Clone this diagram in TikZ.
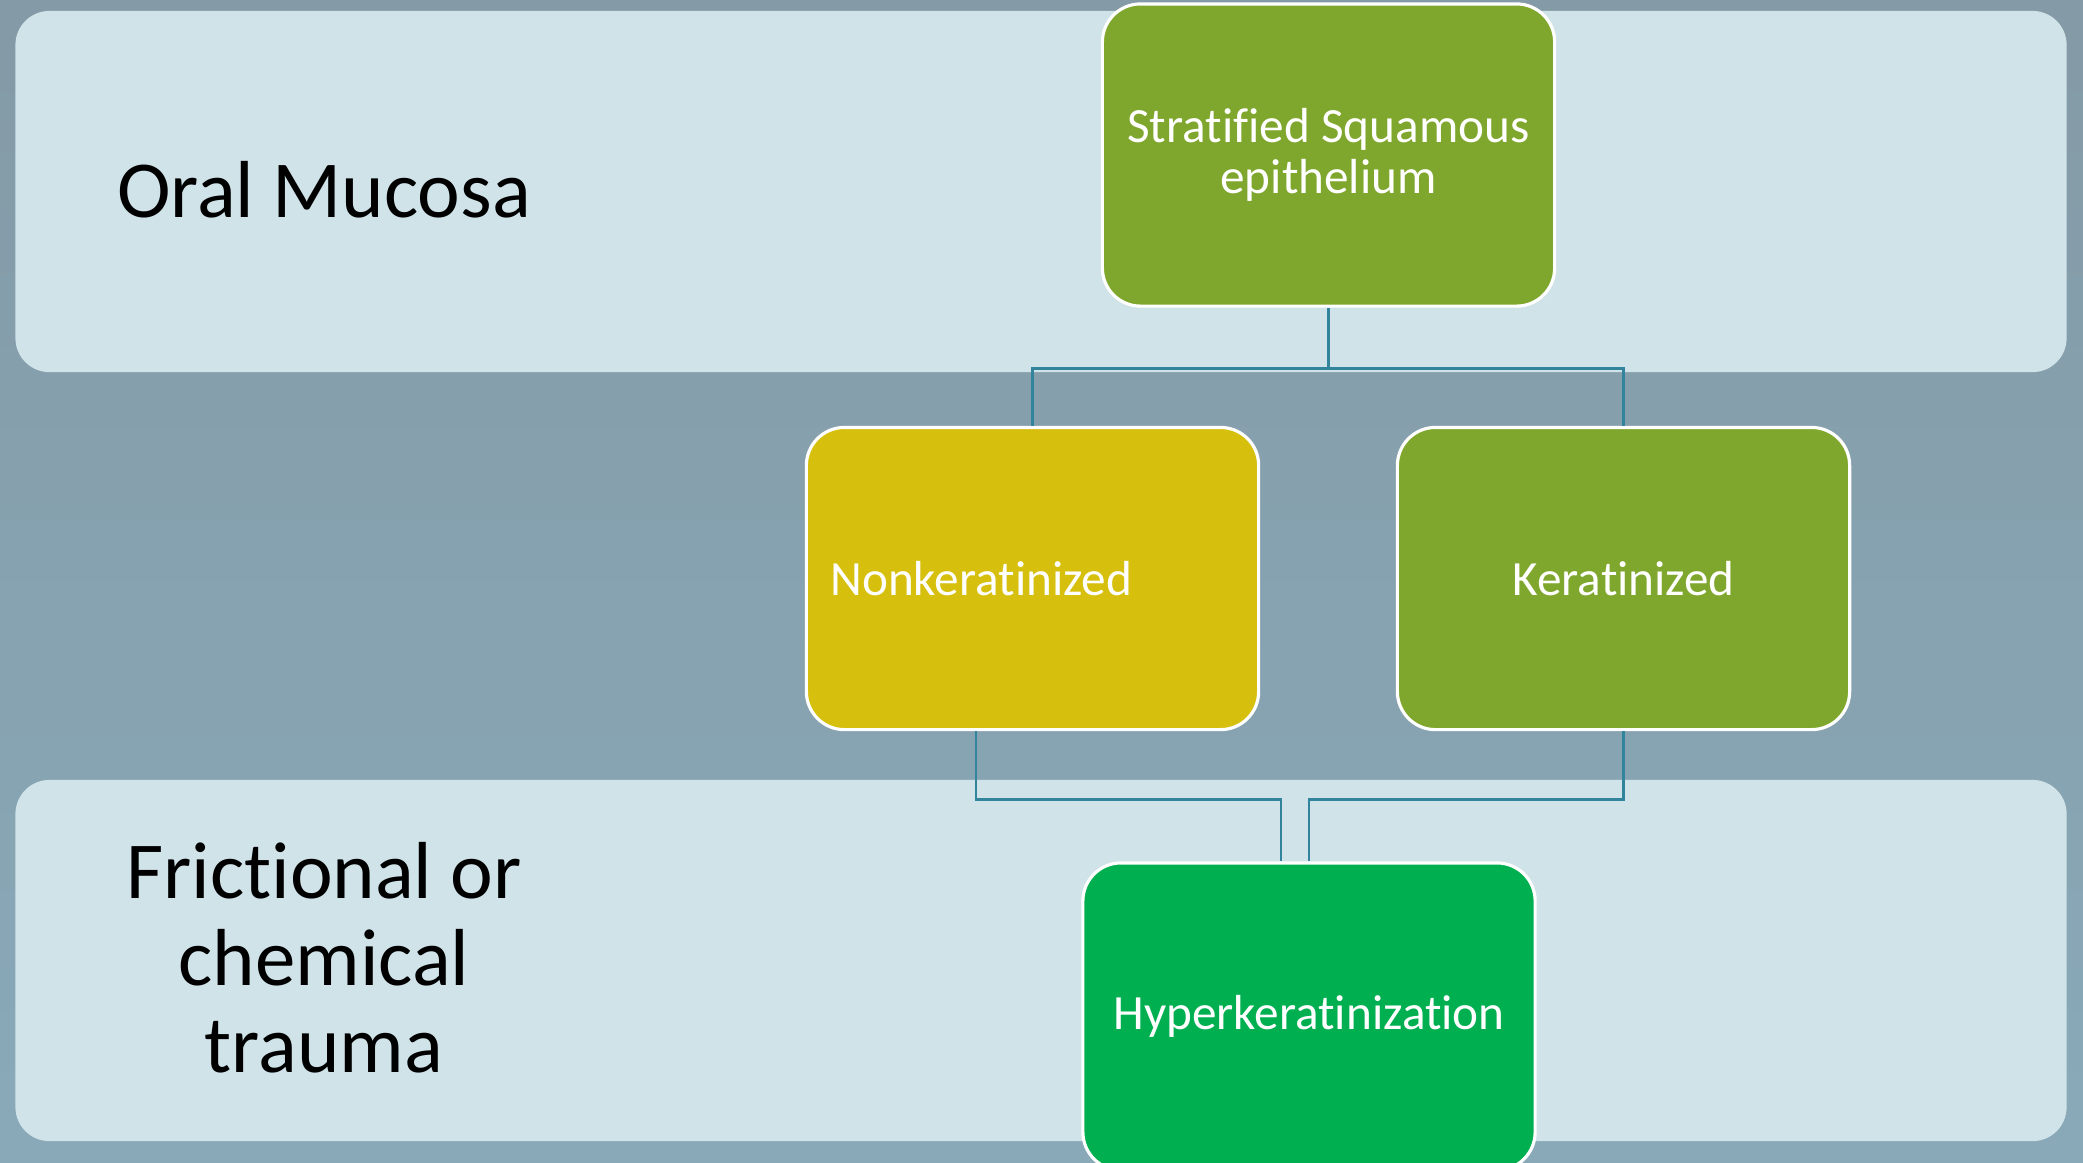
\documentclass[tikz,border=0pt]{standalone}
\usepackage{fontspec}
\setmainfont{Carlito}[Ligatures=NoCommon]
\definecolor{bgtop}{HTML}{849AA6}
\definecolor{bgbot}{HTML}{89A9B9}
\definecolor{bandfill}{HTML}{D0E3E9}
\definecolor{olive}{HTML}{7FA72D}
\definecolor{mustard}{HTML}{D6BF0D}
\definecolor{leaf}{HTML}{00AF50}
\definecolor{teal}{HTML}{31849B}
\begin{document}
\begin{tikzpicture}[x=0.01cm,y=-0.01cm,
    band/.style={fill=bandfill,rounded corners=0.34cm,minimum width=20.5cm,minimum height=3.61cm},
    box/.style={draw=white,line width=0.9pt,rounded corners=0.38cm,minimum width=4.52cm,minimum height=3.02cm,
      text=white,font=\fontsize{14}{14.5}\selectfont,align=center},
    side/.style={font=\fontsize{23}{24.7}\selectfont,align=center},
    link/.style={draw=teal,line width=0.8pt}]
    \clip (0,0) rectangle (2083,1162);
    \shade[top color=bgtop,bottom color=bgbot] (0,0) rectangle (2083,1162);
    \node[band] (topband) at (1041,191.5) {};
    \node[band] (botband) at (1041,960.5) {};
    \node[side] (oral) at (324,190) {Oral Mucosa};
    \node[side] (trauma) at (324,958) {Frictional or\\chemical\\trauma};
    \node[box,fill=olive] (strat) at (1328.5,155) {Stratified Squamous\\epithelium};
    \node[box,fill=mustard,text width=4.04cm,inner xsep=0.24cm,align=left] (nonk) at (1032.5,578.5) {Nonkeratinized};
    \node[box,fill=olive] (kera) at (1623.5,578.5) {Keratinized};
    \node[box,fill=leaf,minimum height=3.07cm] (hyper) at (1309,1016.5) {Hyperkeratinization};
    \draw[link] (strat.south) -- ++(0,61) -| (nonk.north);
    \draw[link] (strat.south) -- ++(0,61) -| (kera.north);
    \draw[link] ([xshift=-0.565cm]nonk.south) -- ++(0,68) -| ([xshift=-0.28cm]hyper.north);
    \draw[link] (kera.south) -- ++(0,68) -| (hyper.north);
\end{tikzpicture}
\end{document}
